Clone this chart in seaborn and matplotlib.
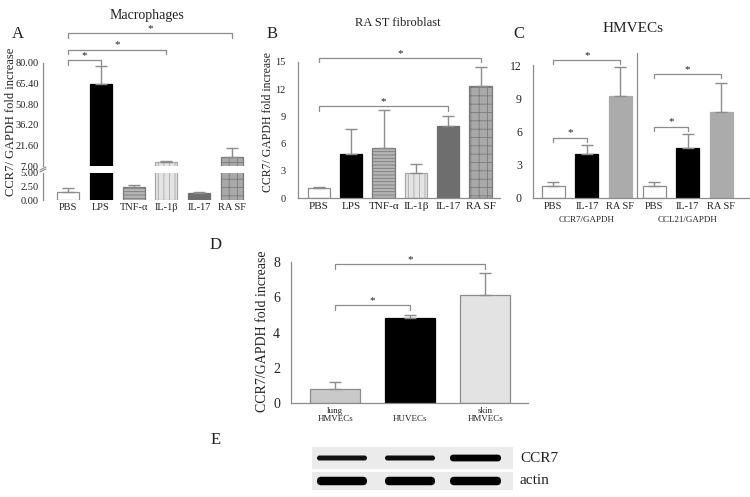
import numpy as np
import pandas as pd
import matplotlib
matplotlib.use("Agg")
import matplotlib.pyplot as plt
import seaborn as sns
from matplotlib.patches import Rectangle, FancyBboxPatch

# ---------------- data ----------------
a_labels = ["PBS", "LPS", "TNF-\u03b1", "IL-1\u03b2", "IL-17", "RA SF"]
a_means = [1.5, 65.0, 2.5, 9.8, 1.3, 13.5]
a_errs = [0.7, 13.0, 0.2, 0.8, 0.15, 6.5]

b_labels = ["PBS", "LPS", "TNF-\u03b1", "IL-1\u03b2", "IL-17", "RA SF"]
b_means = [1.1, 4.8, 5.5, 2.8, 7.9, 12.4]
b_errs = [0.15, 2.8, 4.2, 1.0, 1.1, 2.0]

c_labels = ["PBS", "IL-17", "RA SF", "PBS", "IL-17", "RA SF"]
c_groups = ["CCR7/GAPDH", "CCL21/GAPDH"]
c_means = [1.1, 4.0, 9.2, 1.07, 4.55, 7.8]
c_errs = [0.3, 0.8, 2.6, 0.4, 1.25, 2.6]

d_labels = ["lung\nHMVECs", "\nHUVECs", "skin\nHMVECs"]
d_means = [0.8, 4.8, 6.15]
d_errs = [0.4, 0.2, 1.2]

# western blot band intensities per lane (0..1)
e_rows = ["CCR7", "actin"]
e_ccr7 = [0.80, 0.85, 1.0]
e_actin = [1.0, 1.0, 1.0]

# significance brackets (index pairs, bracket height in data units)
a_sig = [(0, 5, 101.0), (0, 3, 89.5), (0, 1, 82.0)]
b_sig = [(0, 5, 15.4), (0, 4, 10.1)]
c_sig = [(0, 2, 12.45), (0, 1, 5.45), (3, 5, 11.2), (3, 4, 6.45)]
d_sig = [(0, 2, 7.9), (0, 1, 5.57)]

# ---------------- style ----------------
sns.set_style("white")
plt.rcParams["font.family"] = ["Liberation Serif", "DejaVu Serif"]
plt.rcParams["hatch.linewidth"] = 0.6
GRID = "#8c8c8c"
TXT = "#222222"

W, H = 750, 497
fig = plt.figure(figsize=(7.5, 4.97), dpi=100)


def px_axes(x0, x1, ytop, ybot):
    # axes placed with pixel coordinates of the reference
    return fig.add_axes([x0 / W, (H - ybot) / H, (x1 - x0) / W, (ybot - ytop) / H])


def style_axes(ax, fs, show_bottom=True):
    sns.despine(ax=ax)
    for s in ["left", "bottom"]:
        ax.spines[s].set_color(GRID)
        ax.spines[s].set_linewidth(0.9)
    if not show_bottom:
        ax.spines["bottom"].set_visible(False)
    ax.tick_params(length=0, labelsize=fs, colors=TXT, pad=3)
    ax.set_xlabel("")
    ax.set_ylabel("")


def draw_bars(ax, labels, means, errs, faces, edges, hatches, width):
    keys = [f"{i}" for i in range(len(labels))]
    df = pd.DataFrame({"k": keys, "v": means})
    sns.barplot(data=df, x="k", y="v", order=keys, ax=ax, width=width,
                errorbar=None, color="white", linewidth=0.9)
    for p, fc, ec, h in zip(ax.patches, faces, edges, hatches):
        p.set_facecolor(fc)
        p.set_edgecolor(ec)
        if h:
            p.set_hatch(h)
    ax.errorbar(range(len(means)), means, yerr=[np.zeros(len(errs)), errs],
                fmt="none", ecolor=GRID, elinewidth=1.0, capsize=4.5, capthick=1.0)
    return keys


def brackets(ax, sig, tick, fs=8):
    for i0, i1, y in sig:
        ax.plot([i0, i0, i1, i1], [y - tick, y, y, y - tick], color=GRID, lw=0.9,
                clip_on=False)
        ax.text((i0 + i1) / 2, y, "*", ha="center", va="bottom", fontsize=fs,
                color=TXT, clip_on=False)


six_faces = ["white", "black", "#b4b4b4", "#e4e4e4", "#6e6e6e", "#a9a9a9"]
six_edges = [GRID, "black", "#7a7a7a", "#a8a8a8", "#6e6e6e", "#7a7a7a"]
six_hatch = [None, None, "-----", "|||", None, "++"]

# ---------------- panel A (broken axis) ----------------
axA_top = px_axes(43, 248, 63, 166)
axA_bot = px_axes(43, 248, 173, 200)
for ax in (axA_top, axA_bot):
    draw_bars(ax, a_labels, a_means, a_errs, six_faces, six_edges, six_hatch, 0.67)
    ax.set_xlim(-0.77, 5.5)
axA_top.set_ylim(7, 80)
axA_top.set_yticks([7.0, 21.6, 36.2, 50.8, 65.4, 80.0])
axA_top.yaxis.set_major_formatter(matplotlib.ticker.FormatStrFormatter("%.2f"))
axA_top.set_xticks([])
axA_bot.set_ylim(0, 5)
axA_bot.set_yticks([0, 2.5, 5.0])
axA_bot.yaxis.set_major_formatter(matplotlib.ticker.FormatStrFormatter("%.2f"))
axA_bot.set_xticks(range(6))
axA_bot.set_xticklabels(a_labels)
style_axes(axA_top, 7.5, show_bottom=False)
style_axes(axA_bot, 7.5, show_bottom=False)
axA_bot.tick_params(axis="x", pad=2)
brackets(axA_top, a_sig, 3.2)
# break marks on the axis
for yy in (168.5, 170.5):
    fig.add_artist(matplotlib.lines.Line2D([40 / W, 46 / W], [(H - yy - 1.5) / H, (H - yy + 1.5) / H],
                                           color=GRID, lw=0.8))

# ---------------- panel B ----------------
axB = px_axes(298, 500, 62, 198)
draw_bars(axB, b_labels, b_means, b_errs, six_faces, six_edges, six_hatch, 0.69)
axB.set_xlim(-0.65, 5.6)
axB.set_ylim(0, 15)
axB.set_yticks([0, 3, 6, 9, 12, 15])
axB.set_xticks(range(6))
axB.set_xticklabels(b_labels)
style_axes(axB, 8)
axB.tick_params(axis="y", pad=9, labelsize=7.5)
brackets(axB, b_sig, 0.45)

# ---------------- panel C ----------------
axC = px_axes(533, 750, 65, 198)
c_faces = ["white", "black", "#ababab"] * 2
c_edges = [GRID, "black", "#ababab"] * 2
draw_bars(axC, c_labels, c_means, c_errs, c_faces, c_edges, [None] * 6, 0.68)
axC.set_xlim(-0.6, 5.85)
axC.set_ylim(0, 12)
axC.set_yticks([0, 3, 6, 9, 12])
axC.set_xticks(range(6))
axC.set_xticklabels(c_labels)
style_axes(axC, 8.5)
axC.tick_params(axis="y", pad=8)
axC.tick_params(axis="x", labelsize=7.5, pad=3)
axC.plot([2.5, 2.5], [0, 13.1], color=GRID, lw=0.9, clip_on=False)
brackets(axC, c_sig, 0.4)
for gi, g in enumerate(c_groups):
    axC.text(1 + 3 * gi, -1.95, g, ha="center", va="center", fontsize=6.5, color=TXT)

# ---------------- panel D ----------------
axD = px_axes(291, 528, 262, 403)
d_faces = ["#c9c9c9", "black", "#e3e3e3"]
d_edges = [GRID, "black", GRID]
draw_bars(axD, d_labels, d_means, d_errs, d_faces, d_edges, [None] * 3, 0.67)
axD.set_xlim(-0.59, 2.57)
axD.set_ylim(0, 8)
axD.set_yticks([0, 2, 4, 6, 8])
axD.set_xticks(range(3))
axD.set_xticklabels(d_labels, linespacing=1.05)
style_axes(axD, 10)
axD.tick_params(axis="y", pad=8)
axD.tick_params(axis="x", labelsize=6.5, pad=3)
brackets(axD, d_sig, 0.28)

# ---------------- overlay: labels and western blot ----------------
ov = fig.add_axes([0, 0, 1, 1], zorder=-1)
ov.set_xlim(0, W)
ov.set_ylim(H, 0)
ov.axis("off")

ov.text(147, 15, "Macrophages", ha="center", va="center", fontsize=10, color=TXT)
ov.text(398, 23, "RA ST fibroblast", ha="center", va="center", fontsize=9, color=TXT)
ov.text(633, 29, "HMVECs", ha="center", va="center", fontsize=11, color=TXT)
for letter, x, y in [("A", 18, 34), ("B", 272, 34), ("C", 519, 34), ("D", 216, 245), ("E", 216, 440)]:
    ov.text(x, y, letter, ha="center", va="center", fontsize=12, color=TXT)
ov.text(11, 122, "CCR7/ GAPDH fold increase", rotation=90, ha="center", va="center",
        fontsize=9, color=TXT)
ov.text(268, 122, "CCR7/ GAPDH fold increase", rotation=90, ha="center", va="center",
        fontsize=8.5, color=TXT)
ov.text(262, 331, "CCR7/GAPDH fold increase", rotation=90, ha="center", va="center",
        fontsize=10, color=TXT)

# blot strips
lanes = [(314, 370), (382, 438), (447, 504)]
for (ytop, ybot), inten, yband, thick in [((447, 469), e_ccr7, 458, 5.0), ((472, 490), e_actin, 481, 8.5)]:
    ov.add_patch(Rectangle((312, ytop), 201, ybot - ytop, facecolor="#ebebeb", edgecolor="none"))
    for (x0, x1), v in zip(lanes, inten):
        t = thick * (1.35 if (v >= 1.0 and thick < 6) else 1.0)
        ov.add_patch(FancyBboxPatch((x0 + 3, yband - t / 2), x1 - x0 - 6, t,
                                    boxstyle="round,pad=0,rounding_size=%.1f" % (t / 2),
                                    facecolor=str(0.35 * (1 - v)), edgecolor="none"))
ov.text(520, 458, e_rows[0], ha="left", va="center", fontsize=11, color=TXT)
ov.text(520, 481, e_rows[1], ha="left", va="center", fontsize=11, color=TXT)

fig.savefig("out.png", dpi=100)
